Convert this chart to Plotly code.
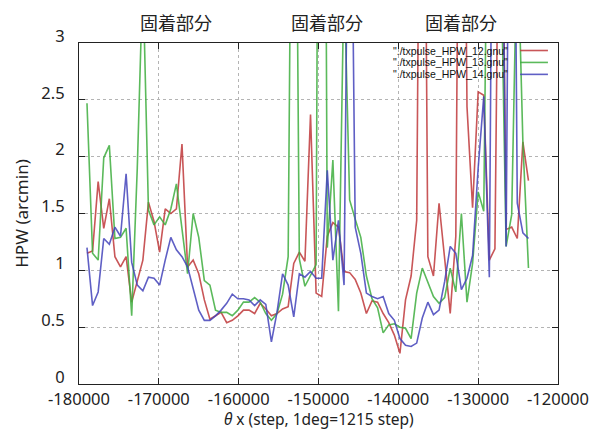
import plotly.graph_objects as go

# Scan positions (theta x, in motor steps), one sample every 700 steps
theta_x = list(range(-179000, -123000, 700))

# HPW (arcmin) for each scan file
hpw_12 = [
    1.15, 1.17, 1.78, 1.37, 1.63, 1.12, 1.03, 1.12, 0.72, 0.91,
    1.09, 1.60, 1.43, 1.16, 1.54, 1.50, 1.54, 2.11, 1.03, 1.09,
    0.97, 0.74, 0.57, 0.60, 0.63, 0.54, 0.56, 0.60, 0.65, 0.65,
    0.62, 0.71, 0.66, 0.60, 0.62, 0.66, 0.68, 1.06, 1.16, 1.08,
    2.37, 0.80, 0.77, 1.30, 1.42, 1.38, 0.99, 0.98, 0.92, 0.80,
    0.62, 0.73, 0.72, 0.62, 0.54, 0.43, 0.27, 0.74, 0.95, 1.44,
    8.00, 1.12, 0.95, 1.59, 1.10, 0.62, 1.30, 8.00, 2.44, 1.55,
    2.57, 2.54, 1.09, 1.19, 6.00, 1.36, 1.38, 1.28, 2.13, 1.79,
]
hpw_13 = [
    2.47, 1.15, 1.09, 1.99, 2.10, 1.28, 1.29, 1.37, 0.60, 1.90,
    3.60, 1.53, 1.40, 1.47, 1.40, 1.54, 1.76, 1.38, 0.97, 1.50,
    1.29, 0.91, 0.87, 0.65, 0.63, 0.63, 0.60, 0.65, 0.72, 0.72,
    0.76, 0.72, 0.62, 0.56, 0.62, 0.79, 1.12, 7.40, 1.10, 0.86,
    0.96, 1.05, 12.0, 1.20, 1.97, 0.64, 3.60, 1.62, 1.45, 1.29,
    0.95, 0.75, 0.67, 0.45, 0.52, 0.53, 0.50, 0.49, 0.40, 0.80,
    1.02, 0.90, 0.77, 0.71, 0.76, 1.02, 0.81, 1.50, 0.72, 1.06,
    1.69, 1.52, 6.00, 5.00, 4.00, 1.21, 1.49, 4.00, 2.13, 1.02,
]
hpw_14 = [
    1.20, 0.69, 0.81, 1.28, 1.23, 1.38, 1.30, 1.85, 1.07, 0.87,
    0.82, 0.94, 0.93, 0.87, 1.09, 1.29, 1.18, 1.12, 1.03, 0.84,
    0.65, 0.56, 0.56, 0.60, 0.65, 0.71, 0.79, 0.75, 0.75, 0.74,
    0.69, 0.74, 0.70, 0.37, 0.63, 0.97, 0.87, 0.59, 0.97, 0.94,
    0.99, 0.93, 0.93, 1.88, 1.09, 1.44, 0.87, 6.00, 1.38, 1.15,
    0.80, 0.77, 0.75, 0.77, 0.62, 0.56, 0.40, 0.34, 0.33, 0.36,
    0.58, 0.72, 0.61, 0.65, 0.90, 1.21, 1.15, 0.83, 0.93, 1.13,
    1.90, 2.53, 0.94, 8.00, 6.00, 1.21, 8.00, 1.59, 1.33, 1.28,
]

series_names = ['"./txpulse_HPW_12.gnu"', '"./txpulse_HPW_13.gnu"', '"./txpulse_HPW_14.gnu"']
series_values = [hpw_12, hpw_13, hpw_14]
series_colors = ['#c0393b', '#3fae3f', '#4444bb']

x_ticks = [-180000, -170000, -160000, -150000, -140000, -130000, -120000]
x_tick_text = ['-180000', '-170000', '-160000', '-150000', '-140000', '-130000', '-120000']
y_ticks = [0, 0.5, 1, 1.5, 2, 2.5, 3]
y_tick_text = ['0', '0.5', '1', '1.5', '2', '2.5', '3']

x_title = '<i>θ</i> x (step, 1deg=1215 step)'
y_title = 'HPW (arcmin)'

# Regions where the stage sticks
stick_label = '固着部分'
stick_centers = [-167850, -148900, -132150]

FONT = 'Noto Sans, Noto Sans CJK JP'
CJK_FONT = 'Noto Sans CJK JP'
KEY_FONT = 'Liberation Sans'

fig = go.Figure()
for name, vals, col in zip(series_names, series_values, series_colors):
    fig.add_trace(go.Scatter(
        x=theta_x, y=vals, mode='lines', name=name,
        line=dict(color=col, width=1.6), opacity=0.85,
        showlegend=False,
    ))

# gnuplot-style key: text right-aligned, line sample to its right
key_rows = [0.978, 0.943, 0.908]
for name, col, yk in zip(series_names, series_colors, key_rows):
    fig.add_annotation(
        x=0.900, y=yk, xref='paper', yref='paper', text=name, showarrow=False,
        xanchor='right', yanchor='middle',
        font=dict(family=KEY_FONT, size=10.5, color='#111'),
    )
    fig.add_shape(
        type='line', xref='paper', yref='paper',
        x0=0.921, x1=0.979, y0=yk, y1=yk,
        line=dict(color=col, width=1.6), opacity=0.85,
    )

for xc in stick_centers:
    fig.add_annotation(
        x=xc, y=1.062, xref='x', yref='paper', text=stick_label, showarrow=False,
        xanchor='center', yanchor='middle',
        font=dict(family=CJK_FONT, size=18, color='#222'),
    )

# x-axis title placed under the tick labels
fig.add_annotation(
    x=0.5, y=-0.103, xref='paper', yref='paper', text=x_title, showarrow=False,
    xanchor='center', yanchor='middle',
    font=dict(family=FONT, size=15.5, color='#222'),
)

axis_common = dict(
    automargin=False,
    showline=True, linecolor='#222', linewidth=1.2, mirror='allticks',
    ticks='inside', ticklen=6, tickcolor='#222', tickwidth=1,
    showgrid=True, gridcolor='#b4b4b4', griddash='dot', gridwidth=1,
    zeroline=False,
)

fig.update_xaxes(
    range=[-180000, -120000], tickvals=x_ticks, ticktext=x_tick_text,
    ticklabelstandoff=0,
    tickfont=dict(family=FONT, size=16.5, color='#222'),
    **axis_common,
)
fig.update_yaxes(
    range=[0, 3], tickvals=y_ticks, ticktext=y_tick_text,
    ticklabelstandoff=10, ticklabelshift=-7,
    tickfont=dict(family=FONT, size=16.5, color='#222'),
    title=dict(text=y_title,
               font=dict(family=FONT, size=17, color='#222'), standoff=8),
    **axis_common,
)

fig.update_layout(
    width=591, height=430,
    margin=dict(l=79, r=33, t=43, b=46),
    paper_bgcolor='white', plot_bgcolor='white',
)

fig.write_html('out.html')
